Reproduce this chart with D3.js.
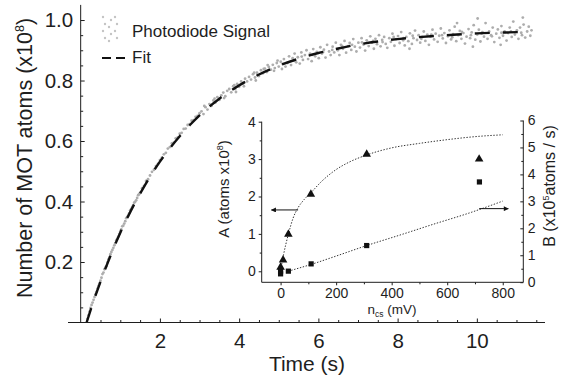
<!DOCTYPE html>
<html>
<head>
<meta charset="utf-8">
<script src="https://cdn.jsdelivr.net/npm/d3@7"></script>
<style>
  html, body { margin: 0; padding: 0; background: #fff; }
  svg, svg text { font-family: "Liberation Sans", Arial, Helvetica, sans-serif; }
  svg { display: block; }
</style>
</head>
<body>
<svg id="chart" width="565" height="381"></svg>
<script>
// ---- main panel: loading curve ----
const fitTime = [0.15, 0.25, 0.5, 0.75, 1, 1.25, 1.5, 1.75, 2, 2.25, 2.5, 2.75, 3, 3.5, 4, 4.5, 5, 5.5, 6, 6.5, 7, 7.5, 8, 8.5, 9, 9.5, 10, 10.5, 11.05];
const fitValue = [0, 0.041, 0.135, 0.220, 0.297, 0.365, 0.426, 0.482, 0.532, 0.576, 0.616, 0.652, 0.685, 0.740, 0.784, 0.820, 0.849, 0.872, 0.891, 0.906, 0.919, 0.929, 0.937, 0.943, 0.948, 0.952, 0.956, 0.958, 0.960];

// photodiode signal, [time (s), atoms (x1e8)]
const signalPoints = [
  [0.17,0.012],[0.20,0.024],[0.225,0.036],[0.25,0.048],[0.275,0.058],[0.30,0.066],[0.325,0.075],[0.35,0.084],[0.375,0.093],
  [0.40,0.101],[0.425,0.112],[0.45,0.121],[0.475,0.129],[0.50,0.138],[0.525,0.148],[0.55,0.160],[0.575,0.165],[0.60,0.176],
  [0.625,0.182],[0.65,0.186],[0.675,0.199],[0.70,0.209],[0.725,0.215],[0.75,0.226],[0.775,0.233],[0.80,0.240],[0.825,0.247],
  [0.85,0.255],[0.875,0.262],[0.90,0.272],[0.925,0.277],[0.95,0.284],[0.975,0.293],[1.00,0.301],[1.025,0.308],[1.05,0.318],
  [1.075,0.320],[1.10,0.327],[1.125,0.335],[1.15,0.345],[1.175,0.349],[1.20,0.353],[1.225,0.361],[1.25,0.371],[1.275,0.375],
  [1.30,0.381],[1.325,0.388],[1.35,0.396],[1.375,0.399],[1.40,0.404],[1.425,0.412],[1.45,0.421],[1.475,0.424],[1.50,0.429],
  [1.55,0.444],[1.60,0.452],[1.65,0.468],[1.70,0.474],[1.75,0.486],[1.80,0.498],[1.85,0.505],[1.90,0.517],[1.95,0.524],
  [2.00,0.537],[2.05,0.545],[2.10,0.556],[2.15,0.561],[2.20,0.575],[2.25,0.580],[2.30,0.592],[2.35,0.595],[2.40,0.609],
  [2.45,0.612],[2.50,0.624],[2.55,0.627],[2.60,0.640],[2.65,0.641],[2.70,0.653],[2.75,0.656],[2.80,0.667],[2.85,0.669],
  [2.90,0.680],[2.95,0.683],[3.00,0.692],
  [3.05,0.698],[3.10,0.689],[3.15,0.712],[3.20,0.704],[3.25,0.722],[3.30,0.716],[3.35,0.734],[3.40,0.727],[3.45,0.745],
  [3.50,0.736],[3.55,0.751],[3.60,0.760],[3.65,0.748],[3.70,0.766],[3.75,0.772],[3.80,0.761],[3.85,0.781],[3.90,0.772],
  [3.95,0.789],[4.00,0.779],[4.05,0.797],[4.10,0.790],[4.15,0.806],[4.20,0.797],[4.25,0.812],[4.30,0.803],[4.35,0.821],
  [4.40,0.810],[4.45,0.826],[4.50,0.815],[4.55,0.834],[4.60,0.824],[4.65,0.839],[4.70,0.828],[4.75,0.845],[4.80,0.836],
  [4.85,0.852],[4.90,0.841],[4.95,0.858],[5.00,0.846],
  [3.12,0.716],[3.38,0.740],[3.62,0.742],[3.88,0.785],[4.12,0.781],[4.38,0.826],[4.62,0.838],[4.88,0.832],[4.97,0.866],
  [3.92,0.762],[4.42,0.800],[4.72,0.851],
  [5.05,0.862],[5.08,0.838],[5.13,0.871],[5.17,0.846],[5.22,0.858],[5.26,0.880],[5.31,0.851],[5.35,0.874],[5.40,0.889],
  [5.44,0.860],[5.48,0.877],[5.53,0.856],[5.57,0.893],[5.61,0.868],[5.66,0.884],[5.70,0.900],[5.74,0.871],[5.79,0.889],
  [5.83,0.864],[5.87,0.904],[5.92,0.880],[5.96,0.895],[6.01,0.874],[6.05,0.910],[6.09,0.889],[6.14,0.902],[6.18,0.876],
  [6.22,0.918],[6.27,0.896],[6.31,0.884],[6.36,0.912],[6.40,0.893],[6.44,0.925],[6.49,0.900],[6.53,0.884],[6.57,0.918],
  [6.62,0.905],[6.66,0.931],[6.70,0.892],[6.75,0.914],[6.79,0.924],[6.83,0.901],[6.88,0.937],[6.92,0.912],[6.96,0.896],
  [7.01,0.925],[7.05,0.909],[7.09,0.940],[7.14,0.919],[7.18,0.899],[7.22,0.933],[7.27,0.914],[7.31,0.946],[7.35,0.925],
  [7.40,0.905],[7.44,0.938],[7.48,0.920],[7.53,0.950],[7.57,0.913],[7.61,0.934],[7.66,0.944],[7.70,0.921],[7.74,0.908],
  [7.79,0.940],[7.83,0.928],[7.87,0.955],[7.92,0.915],[7.96,0.937],[8.01,0.947],[8.05,0.924],[8.09,0.960],[8.14,0.933],
  [8.18,0.916],[8.22,0.944],[8.27,0.930],[8.31,0.956],[8.36,0.921],[8.40,0.940],[8.44,0.965],[8.49,0.934],[8.53,0.950],
  [8.57,0.925],[8.62,0.944],[8.66,0.962],[8.70,0.931],[8.75,0.952],[8.79,0.918],[8.83,0.945],[8.88,0.968],[8.92,0.936],
  [8.96,0.955],[9.01,0.928],[9.05,0.948],[9.09,0.972],[9.14,0.939],[9.18,0.957],[9.22,0.924],[9.27,0.946],[9.31,0.966],
  [9.35,0.936],[9.40,0.953],[9.44,0.978],[9.48,0.930],[9.53,0.950],[9.57,0.964],[9.61,0.938],[9.66,0.957],[9.70,0.922],
  [9.74,0.945],[9.79,0.970],[9.83,0.940],[9.87,0.959],[9.92,0.983],[9.96,0.935],[10.01,0.952],[10.05,0.968],[10.09,0.929],
  [10.14,0.960],[10.18,0.945],[10.22,0.990],[10.27,0.938],[10.31,0.962],[10.36,0.950],[10.40,0.975],[10.44,0.927],
  [10.49,0.955],[10.53,0.969],[10.57,0.941],[10.62,0.980],[10.66,0.948],[10.70,0.962],[10.75,0.932],[10.79,0.957],
  [10.83,0.975],[10.88,0.944],[10.92,0.995],[10.96,0.952],[11.01,0.966],[11.05,0.938],[11.09,0.975],[11.14,0.950],
  [11.18,0.985],[11.22,0.942],[11.27,0.962],[11.31,0.978],[11.35,0.948],
  [10.02,1.005],[11.16,1.008],[9.50,0.990],[9.90,0.912],[10.60,0.918],[8.30,0.905],
  [5.10,0.855],[5.38,0.866],[5.58,0.879],[5.85,0.885],[6.12,0.894],[6.35,0.901],[6.60,0.914],[6.85,0.918],[7.10,0.926],
  [7.38,0.931],[7.62,0.927],[7.90,0.944],[8.15,0.940],[8.38,0.948],[8.60,0.938],[8.85,0.952],[9.12,0.950],[9.38,0.943],
  [9.62,0.961],[9.85,0.950],[10.12,0.955],[10.38,0.946],[10.62,0.958],[10.86,0.962],[11.12,0.958],[11.38,0.966]
];

const yTicks = [0.2, 0.4, 0.6, 0.8, 1.0];
const yMinorTicks = d3.range(1, 21).map(i => i * 0.05);
const xTicks = [2, 4, 6, 8, 10];
const xMinorTicks = d3.range(1, 24).map(i => i * 0.5);

// ---- inset: loading parameters vs n_cs ----
const ncsA = [0, 9, 28, 109, 310, 715];
const valueA = [0.11, 0.30, 0.99, 2.06, 3.13, 3.00];
const ncsB = [0, 0, 28, 110, 310, 716];
const valueB = [0.31, 0.41, 0.41, 0.68, 1.36, 3.72];
const fitANcs = [0, 10, 28, 45, 63, 85, 109, 150, 200, 250, 310, 400, 500, 600, 700, 800];
const fitAValue = [0.02, 0.42, 0.99, 1.42, 1.70, 1.92, 2.10, 2.42, 2.72, 2.93, 3.11, 3.30, 3.42, 3.52, 3.60, 3.65];
const fitBNcs = [28, 110, 200, 310, 430, 550, 680, 800];
const fitBValue = [0.41, 0.66, 0.97, 1.36, 1.75, 2.15, 2.57, 3.01];
const arrowA = { from: 63, to: -33, value: 1.64 };
const arrowB = { from: 715, to: 820, value: 2.73 };

const insetXTicks = [0, 200, 400, 600, 800];
const insetXMinor = [100, 300, 500, 700];
const insetATicks = [0, 1, 2, 3, 4];
const insetAMinor = [0.5, 1.5, 2.5, 3.5];
const insetBTicks = [0, 1, 2, 3, 4, 5, 6];
const insetBMinor = [0.5, 1.5, 2.5, 3.5, 4.5, 5.5];

const ink = '#1e1e1e';
const fontFamily = '"Liberation Sans", Arial, Helvetica, sans-serif';
const svg = d3.select('#chart');

// main scales
const x = d3.scaleLinear().domain([-0.32, 11.72]).range([68, 545]);
const y = d3.scaleLinear().domain([0, 1.05]).range([322.5, 4.9]);
const x0 = x(0);

function styleAxis(g, size) {
  g.attr('font-family', fontFamily).attr('font-size', size);
  g.select('.domain').remove();
  g.selectAll('.tick line').attr('stroke', ink).attr('stroke-width', 1);
  g.selectAll('.tick text').attr('fill', ink);
}

// photodiode dots
svg.append('g')
  .selectAll('circle')
  .data(signalPoints)
  .join('circle')
  .attr('cx', d => x(d[0]))
  .attr('cy', d => y(d[1]))
  .attr('r', 1.4)
  .attr('fill', '#adadad');

// fit line
const fitLine = d3.line()
  .x(d => x(d[0]))
  .y(d => y(d[1]))
  .curve(d3.curveMonotoneX);

svg.append('path')
  .datum(fitTime.map((t, i) => [t, fitValue[i]]))
  .attr('d', fitLine)
  .attr('fill', 'none')
  .attr('stroke', '#111')
  .attr('stroke-width', 2.4)
  .attr('stroke-dasharray', '15,13');

// main y axis
svg.append('g')
  .attr('transform', `translate(${x0},0)`)
  .call(d3.axisLeft(y).tickValues(yTicks).tickFormat(d3.format('.1f')).tickSizeInner(-4).tickSizeOuter(0).tickPadding(7.5))
  .call(g => styleAxis(g, 20.5));
svg.append('g')
  .attr('transform', `translate(${x0},0)`)
  .call(d3.axisLeft(y).tickValues(yMinorTicks.filter(v => !yTicks.some(t => Math.abs(t - v) < 1e-6))).tickFormat('').tickSizeInner(-2.5).tickSizeOuter(0))
  .call(g => styleAxis(g, 10));
svg.append('line')
  .attr('x1', x0).attr('x2', x0)
  .attr('y1', y(1.05)).attr('y2', y(0))
  .attr('stroke', ink).attr('stroke-width', 1);

// main x axis
svg.append('g')
  .attr('transform', `translate(0,${y(0)})`)
  .call(d3.axisBottom(x).tickValues(xTicks).tickFormat(d3.format('d')).tickSizeInner(-4).tickSizeOuter(0).tickPadding(10.5))
  .call(g => styleAxis(g, 20.5));
svg.append('g')
  .attr('transform', `translate(0,${y(0)})`)
  .call(d3.axisBottom(x).tickValues(xMinorTicks.filter(v => v % 2 !== 0)).tickFormat('').tickSizeInner(-2.5).tickSizeOuter(0))
  .call(g => styleAxis(g, 10));
svg.append('line')
  .attr('x1', x.range()[0]).attr('x2', x.range()[1])
  .attr('y1', y(0)).attr('y2', y(0))
  .attr('stroke', ink).attr('stroke-width', 1);

// main axis titles
const yTitle = svg.append('text')
  .attr('transform', 'translate(32,158) rotate(-90)')
  .attr('text-anchor', 'middle')
  .attr('fill', ink)
  .attr('font-family', fontFamily)
  .attr('font-size', 21.5);
yTitle.append('tspan').text('Number of MOT atoms (x10');
yTitle.append('tspan').attr('dy', -8).attr('font-size', 12.5).text('8');
yTitle.append('tspan').attr('dy', 8).text(')');

svg.append('text')
  .attr('x', 307).attr('y', 371)
  .attr('text-anchor', 'middle')
  .attr('fill', ink)
  .attr('font-family', fontFamily)
  .attr('font-size', 21)
  .text('Time (s)');

// legend
const legend = svg.append('g').attr('font-family', fontFamily);
d3.range(4).forEach(r => {
  d3.range(3).forEach(c => {
    legend.append('circle')
      .attr('cx', 103 + c * 6 + ((r + c) % 2) * 2)
      .attr('cy', 17 + r * 7 + (c % 2) * 3)
      .attr('r', 1.2)
      .attr('fill', '#c4c4c4');
  });
});
legend.append('text')
  .attr('x', 132).attr('y', 37)
  .attr('fill', ink)
  .attr('font-size', 17)
  .text('Photodiode Signal');
legend.append('line')
  .attr('x1', 102).attr('x2', 127)
  .attr('y1', 58).attr('y2', 58)
  .attr('stroke', '#111').attr('stroke-width', 2)
  .attr('stroke-dasharray', '9,5');
legend.append('text')
  .attr('x', 132).attr('y', 63)
  .attr('fill', ink)
  .attr('font-size', 17)
  .text('Fit');

// ---- inset ----
const ix = d3.scaleLinear().domain([-68, 874]).range([261.7, 523.3]);
const iyA = d3.scaleLinear().domain([-0.3, 4]).range([282.5, 121.7]);
const iyB = d3.scaleLinear().domain([0, 6]).range([282.2, 120.5]);
const inset = svg.append('g').attr('font-family', fontFamily);

// dotted fits
const dotted = (sx, sy) => d3.line().x(d => sx(d[0])).y(d => sy(d[1])).curve(d3.curveMonotoneX);
inset.append('path')
  .datum(fitANcs.map((n, i) => [n, fitAValue[i]]))
  .attr('d', dotted(ix, iyA))
  .attr('fill', 'none').attr('stroke', '#333').attr('stroke-width', 1)
  .attr('stroke-dasharray', '1.4,1.6');
inset.append('path')
  .datum(fitBNcs.map((n, i) => [n, fitBValue[i]]))
  .attr('d', dotted(ix, iyB))
  .attr('fill', 'none').attr('stroke', '#333').attr('stroke-width', 1)
  .attr('stroke-dasharray', '1.4,1.6');

// markers
inset.append('g')
  .selectAll('path')
  .data(ncsA.map((n, i) => [n, valueA[i]]))
  .join('path')
  .attr('transform', d => `translate(${ix(d[0])},${iyA(d[1])})`)
  .attr('d', d3.symbol(d3.symbolTriangle, 32))
  .attr('fill', '#111');
inset.append('g')
  .selectAll('rect')
  .data(ncsB.map((n, i) => [n, valueB[i]]))
  .join('rect')
  .attr('x', d => ix(d[0]) - 2.6)
  .attr('y', d => iyB(d[1]) - 2.6)
  .attr('width', 5.2).attr('height', 5.2)
  .attr('fill', '#111');

// arrows
inset.append('defs').append('marker')
  .attr('id', 'head')
  .attr('viewBox', '0 0 10 10')
  .attr('refX', 9).attr('refY', 5)
  .attr('markerWidth', 7).attr('markerHeight', 5)
  .attr('markerUnits', 'userSpaceOnUse')
  .attr('orient', 'auto')
  .append('path').attr('d', 'M0,0L10,5L0,10Z').attr('fill', '#111');
inset.append('line')
  .attr('x1', ix(arrowA.from)).attr('x2', ix(arrowA.to))
  .attr('y1', iyA(arrowA.value)).attr('y2', iyA(arrowA.value))
  .attr('stroke', '#111').attr('stroke-width', 1)
  .attr('marker-end', 'url(#head)');
inset.append('line')
  .attr('x1', ix(arrowB.from)).attr('x2', ix(arrowB.to))
  .attr('y1', iyB(arrowB.value)).attr('y2', iyB(arrowB.value))
  .attr('stroke', '#111').attr('stroke-width', 1)
  .attr('marker-end', 'url(#head)');

// inset axes
const ixL = ix.range()[0], ixR = ix.range()[1], iyBottom = 282.3;
const intFmt = d3.format('d');
inset.append('g')
  .attr('transform', `translate(${ixL},0)`)
  .call(d3.axisLeft(iyA).tickValues(insetATicks).tickFormat(intFmt).tickSizeInner(3).tickSizeOuter(0).tickPadding(3))
  .call(g => styleAxis(g, 14));
inset.append('g')
  .attr('transform', `translate(${ixL},0)`)
  .call(d3.axisLeft(iyA).tickValues(insetAMinor).tickFormat('').tickSizeInner(2).tickSizeOuter(0))
  .call(g => styleAxis(g, 10));
inset.append('g')
  .attr('transform', `translate(0,${iyBottom})`)
  .call(d3.axisBottom(ix).tickValues(insetXTicks).tickFormat(intFmt).tickSizeInner(3).tickSizeOuter(0).tickPadding(3))
  .call(g => styleAxis(g, 14));
inset.append('g')
  .attr('transform', `translate(0,${iyBottom})`)
  .call(d3.axisBottom(ix).tickValues(insetXMinor).tickFormat('').tickSizeInner(2).tickSizeOuter(0))
  .call(g => styleAxis(g, 10));
inset.append('g')
  .attr('transform', `translate(${ixR},0)`)
  .call(d3.axisRight(iyB).tickValues(insetBTicks).tickFormat(intFmt).tickSizeInner(-3).tickSizeOuter(0).tickPadding(4.5))
  .call(g => styleAxis(g, 14));
inset.append('g')
  .attr('transform', `translate(${ixR},0)`)
  .call(d3.axisRight(iyB).tickValues(insetBMinor).tickFormat('').tickSizeInner(-2).tickSizeOuter(0))
  .call(g => styleAxis(g, 10));
inset.append('path')
  .attr('d', `M${ixL},${iyA(4)}V${iyBottom}H${ixR}V${iyB(6)}`)
  .attr('fill', 'none').attr('stroke', ink).attr('stroke-width', 1);

// inset titles
const aTitle = inset.append('text')
  .attr('transform', 'translate(229,189) rotate(-90)')
  .attr('text-anchor', 'middle').attr('fill', ink)
  .attr('font-size', 15);
aTitle.append('tspan').text('A (atoms x10');
aTitle.append('tspan').attr('dy', -6).attr('font-size', 9).text('8');
aTitle.append('tspan').attr('dy', 6).text(')');

const bTitle = inset.append('text')
  .attr('transform', 'translate(555,186) rotate(-90)')
  .attr('text-anchor', 'middle').attr('fill', ink)
  .attr('font-size', 16);
bTitle.append('tspan').text('B (x10');
bTitle.append('tspan').attr('dy', -6).attr('font-size', 9).text('5');
bTitle.append('tspan').attr('dy', 6).text('atoms / s)');

const nTitle = inset.append('text')
  .attr('x', 392).attr('y', 314)
  .attr('text-anchor', 'middle').attr('fill', ink)
  .attr('font-size', 13.5);
nTitle.append('tspan').text('n');
nTitle.append('tspan').attr('dy', 3).attr('font-size', 8.5).text('cs');
nTitle.append('tspan').attr('dy', -3).text(' (mV)');
</script>
</body>
</html>
